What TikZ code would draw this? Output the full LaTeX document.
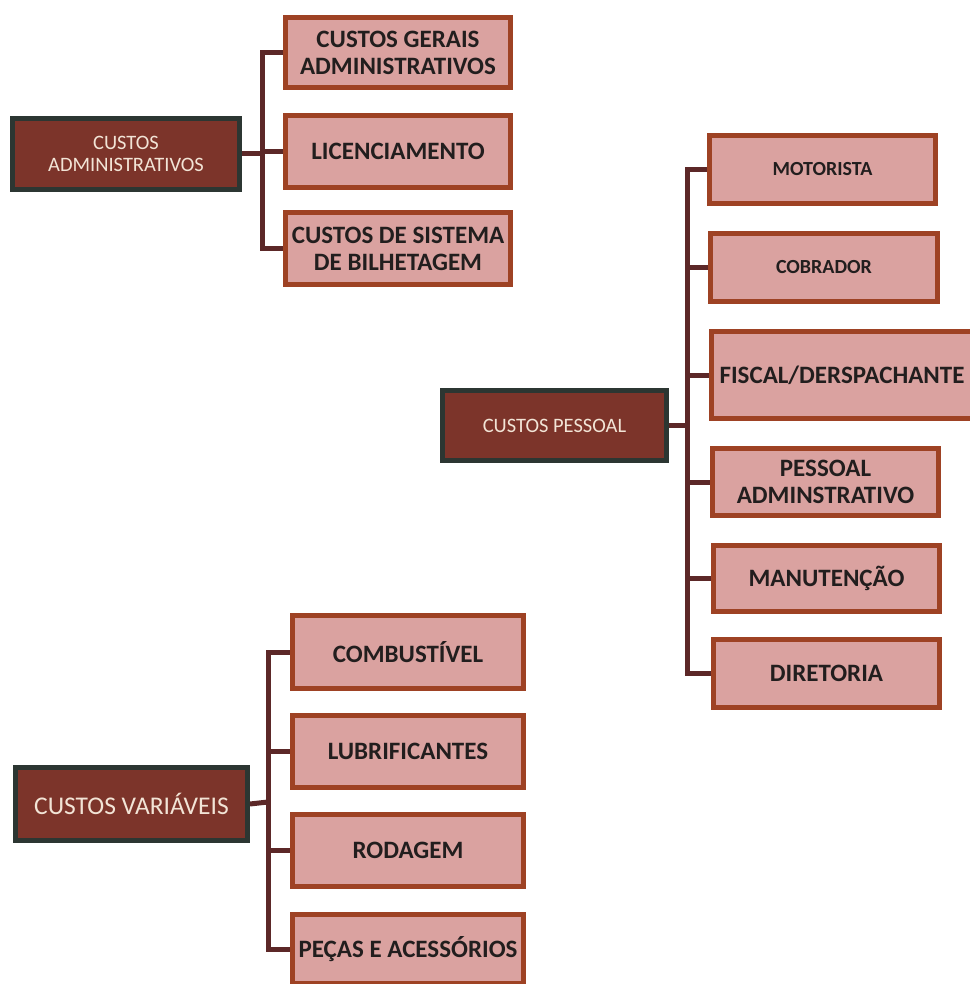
\documentclass[tikz,border=0pt]{standalone}
\usepackage{fontspec}
\setmainfont{Carlito}
\definecolor{childfill}{RGB}{218,162,160}
\definecolor{childborder}{RGB}{158,66,36}
\definecolor{parentfill}{RGB}{124,52,42}
\definecolor{parentborder}{RGB}{44,54,50}
\definecolor{connclr}{RGB}{92,40,40}
\definecolor{childtext}{RGB}{34,30,30}
\definecolor{parenttext}{RGB}{242,228,214}
\begin{document}
\begin{tikzpicture}[x=1pt,y=-1pt,
  childbox/.style={draw=childborder, fill=childfill, line width=5pt, inner sep=0pt,
    align=center, text=childtext, font=\fontsize{25}{27}\selectfont\bfseries},
  smallchild/.style={childbox, font=\fontsize{20}{24}\selectfont\bfseries},
  parentbox/.style={draw=parentborder, fill=parentfill, line width=5pt, inner sep=0pt,
    align=center, text=parenttext, font=\fontsize{20.5}{22}\selectfont},
  conn/.style={draw=connclr, line width=5pt, line join=miter}]
\useasboundingbox (0,0) rectangle (969,984);
\fill[white] (0,0) rectangle (969,984);

% Group 1
\node[parentbox, minimum width=227, minimum height=71] (p1) at (126,154) {CUSTOS\\ADMINISTRATIVOS};
\node[childbox, minimum width=225, minimum height=70] (a1) at (398,52.5) {CUSTOS GERAIS\\ADMINISTRATIVOS};
\node[childbox, minimum width=225, minimum height=72] (a2) at (398,151.5) {LICENCIAMENTO};
\node[childbox, minimum width=225, minimum height=72] (a3) at (398,248.5) {CUSTOS DE SISTEMA\\DE BILHETAGEM};
\coordinate (s1) at (262,154);
\draw[conn] (p1.east) -- (s1);
\draw[conn] (s1) |- (a1.west);
\draw[conn] (s1) |- (a2.west);
\draw[conn] (s1) |- (a3.west);

% Group 2
\node[parentbox, minimum width=224, minimum height=70] (p2) at (554.5,425.5) {CUSTOS PESSOAL};
\node[smallchild, minimum width=226, minimum height=68] (b1) at (822.5,169.5) {MOTORISTA};
\node[smallchild, minimum width=227, minimum height=68] (b2) at (824,267.5) {COBRADOR};
\node[childbox, minimum width=262, minimum height=87] (b3) at (842,375) {FISCAL/DERSPACHANTE};
\node[childbox, minimum width=226, minimum height=67] (b4) at (825.5,482) {PESSOAL\\ADMINSTRATIVO};
\node[childbox, minimum width=226, minimum height=66] (b5) at (826.5,578.5) {MANUTENÇÃO};
\node[childbox, minimum width=226, minimum height=68] (b6) at (826.5,673.5) {DIRETORIA};
\coordinate (s2) at (687,425.5);
\draw[conn] (p2.east) -- (s2);
\foreach \c in {b1,b2,b3,b4,b5,b6} \draw[conn] (s2) |- (\c.west);

% Group 3
\node[parentbox, minimum width=232, minimum height=73, font=\fontsize{25.5}{28}\selectfont] (p3) at (131.5,804) {CUSTOS VARIÁVEIS};
\node[childbox, minimum width=231, minimum height=73] (c1) at (408,652) {COMBUSTÍVEL};
\node[childbox, minimum width=231, minimum height=72] (c2) at (408,751.5) {LUBRIFICANTES};
\node[childbox, minimum width=231, minimum height=72] (c3) at (408,850.5) {RODAGEM};
\node[childbox, minimum width=231, minimum height=69] (c4) at (408,949) {PEÇAS E ACESSÓRIOS};
\coordinate (s3) at (268,802);
\draw[conn] (p3.east) -- (s3);
\foreach \c in {c1,c2,c3,c4} \draw[conn] (s3) |- (\c.west);
\end{tikzpicture}
\end{document}
